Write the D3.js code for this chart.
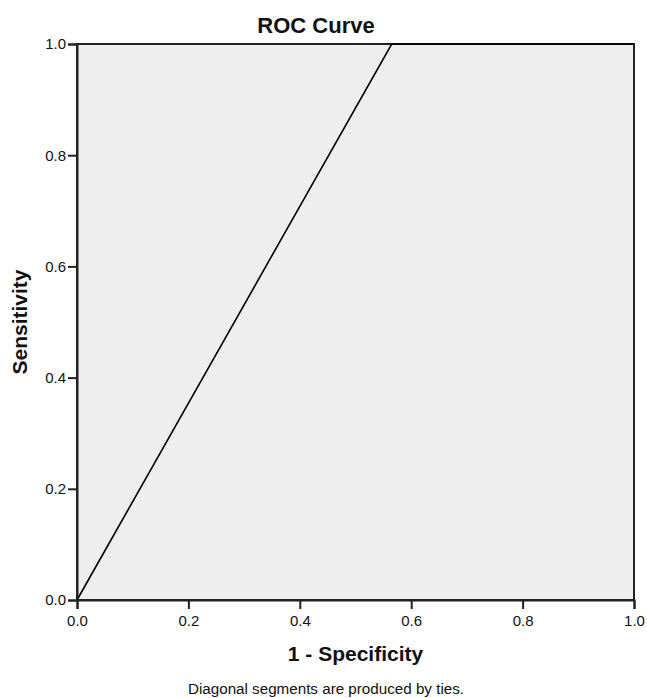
<!DOCTYPE html>
<html lang="en">
	<head>
		<meta charset="utf-8">
		<title>ROC Curve</title>
		<script type="text/javascript" src="https://cdn.jsdelivr.net/npm/d3@7"></script>
		<style type="text/css">
			body { margin: 0; background: #fff; }
			text { font-family: "Liberation Sans", Arial, sans-serif; fill: #111; }
		</style>
	</head>
	<body>
		<script type="text/javascript">

			//Width and height
			var w = 647;
			var h = 698;
			var plot = { left: 77, right: 634, top: 44, bottom: 600 };

			//ROC points
			var specComplement = [0, 0.565, 1];   // 1 - Specificity
			var sensitivity    = [0, 1, 1];
			var tickValues     = [0, 0.2, 0.4, 0.6, 0.8, 1.0];

			var xScale = d3.scaleLinear()
							.domain([0, 1])
							.range([plot.left, plot.right]);

			var yScale = d3.scaleLinear()
							.domain([0, 1])
							.range([plot.bottom, plot.top]);

			//Create SVG element
			var svg = d3.select("body")
						.append("svg")
						.attr("width", w)
						.attr("height", h);

			//Plot background
			svg.append("rect")
			   .attr("x", plot.left)
			   .attr("y", plot.top)
			   .attr("width", plot.right - plot.left)
			   .attr("height", plot.bottom - plot.top)
			   .attr("fill", "#eeeeee")
			   .attr("stroke", "#222")
			   .attr("stroke-width", 2);

			//Curve
			var points = specComplement.map(function(d, i) {
				return [d, sensitivity[i]];
			});

			svg.append("path")
			   .datum(points)
			   .attr("fill", "none")
			   .attr("stroke", "#000")
			   .attr("stroke-width", 1.6)
			   .attr("d", d3.line()
			   		.x(function(d) { return xScale(d[0]); })
			   		.y(function(d) { return yScale(d[1]); }));

			//Axes
			var xAxis = d3.axisBottom(xScale)
						.tickValues(tickValues)
						.tickFormat(d3.format(".1f"))
						.tickSize(9)
						.tickPadding(6);

			var yAxis = d3.axisLeft(yScale)
						.tickValues(tickValues)
						.tickFormat(d3.format(".1f"))
						.tickSize(9)
						.tickPadding(2);

			var gx = svg.append("g")
			   .attr("transform", "translate(0," + plot.bottom + ")")
			   .call(xAxis);

			var gy = svg.append("g")
			   .attr("transform", "translate(" + plot.left + ",0)")
			   .call(yAxis);

			[gx, gy].forEach(function(g) {
				g.select(".domain").attr("stroke", "#222").attr("stroke-width", 2);
				g.selectAll(".tick line").attr("stroke", "#222").attr("stroke-width", 2);
				g.selectAll(".tick text")
				 .attr("font-family", "'Liberation Sans', Arial, sans-serif")
				 .attr("font-size", "15px")
				 .attr("fill", "#111");
			});

			//Title and labels
			svg.append("text")
			   .text("ROC Curve")
			   .attr("x", 316)
			   .attr("y", 33)
			   .attr("text-anchor", "middle")
			   .attr("font-size", "22px")
			   .attr("font-weight", "bold");

			svg.append("text")
			   .text("1 - Specificity")
			   .attr("x", (plot.left + plot.right) / 2)
			   .attr("y", 661)
			   .attr("text-anchor", "middle")
			   .attr("font-size", "21px")
			   .attr("font-weight", "bold");

			svg.append("text")
			   .text("Sensitivity")
			   .attr("transform", "translate(27," + (plot.top + plot.bottom) / 2 + ") rotate(-90)")
			   .attr("text-anchor", "middle")
			   .attr("font-size", "21px")
			   .attr("font-weight", "bold");

			svg.append("text")
			   .text("Diagonal segments are produced by ties.")
			   .attr("x", 326)
			   .attr("y", 694)
			   .attr("text-anchor", "middle")
			   .attr("font-size", "15.2px");

		</script>
	</body>
</html>
